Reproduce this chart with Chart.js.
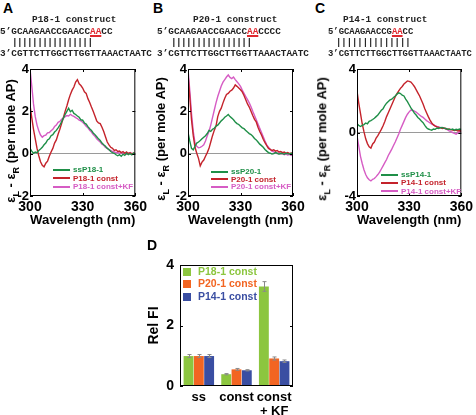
<!DOCTYPE html>
<html>
<head>
<meta charset="utf-8">
<script src="https://cdn.jsdelivr.net/npm/chart.js@4"></script>
<style>
  body { margin: 0; width: 476px; height: 415px; position: relative; background: #fff; overflow: hidden;
         font-family: "Liberation Sans", Arial, sans-serif; }
  canvas { position: absolute; }
  .lbl { position: absolute; font-weight: bold; font-size: 14px; line-height: 14px; color: #000; z-index: 2; }
  .seq { position: absolute; font: bold 9.4px "Liberation Mono", "Courier New", monospace; line-height: 10px;
         white-space: pre; color: #222; z-index: 2; will-change: transform; }
  .seq.narrow { font-size: 8.9px; }
  .bars { letter-spacing: -0.6px; }
  .aa { color: #e0282e; text-decoration: underline; text-decoration-thickness: 1.5px; text-underline-offset: 1px; }
  .ytitle { position: absolute; font-weight: bold; font-size: 13px; white-space: nowrap; color: #000; z-index: 2;
            transform: translate(-50%, -50%) rotate(-90deg); }
  .ytitle sub { font-size: 9px; }
  .leg { position: absolute; font-weight: bold; white-space: nowrap; z-index: 2; line-height: 1; }
  .leg i { display: inline-block; vertical-align: middle; }
</style>
</head>
<body>

<div class="lbl" style="left:3px;top:1px">A</div>
<div class="lbl" style="left:153px;top:1px">B</div>
<div class="lbl" style="left:315px;top:1px">C</div>
<div class="lbl" style="left:147px;top:238px">D</div>

<div class="seq" style="left:32px;top:15px">P18-1 construct</div>
<div class="seq" style="left:0px;top:27px">5’GCAAGAACCGAACC<span class="aa">AA</span>CC</div>
<div class="seq bars" style="left:12px;top:38px">||||||||||||||||</div>
<div class="seq" style="left:0px;top:49px">3’CGTTCTTGGCTTGGTTAAACTAATC</div>

<div class="seq" style="left:193px;top:15px">P20-1 construct</div>
<div class="seq" style="left:157px;top:27px">5’GCAAGAACCGAACC<span class="aa">AA</span>CCCC</div>
<div class="seq bars" style="left:171px;top:38px">||||||||||||||||</div>
<div class="seq" style="left:157px;top:49px">3’CGTTCTTGGCTTGGTTAAACTAATC</div>

<div class="seq" style="left:343px;top:15px">P14-1 construct</div>
<div class="seq narrow" style="left:328px;top:27px">5’GCAAGAACCG<span class="aa">AA</span>CC</div>
<div class="seq narrow" style="left:336px;top:38px">||||||||||||||</div>
<div class="seq narrow" style="left:328px;top:49px">3’CGTTCTTGGCTTGGTTAAACTAATC</div>

<canvas id="cdA" width="150" height="170" style="left:0;top:60px"></canvas>
<canvas id="cdB" width="160" height="170" style="left:150px;top:60px"></canvas>
<canvas id="cdC" width="166" height="170" style="left:310px;top:60px"></canvas>
<canvas id="barD" width="175" height="175" style="left:130px;top:240px"></canvas>

<div class="ytitle" style="left:12px;top:141px">ε<sub>L</sub> - ε<sub>R</sub> (per mole AP)</div>
<div class="ytitle" style="left:162px;top:139px">ε<sub>L</sub> - ε<sub>R</sub> (per mole AP)</div>
<div class="ytitle" style="left:323px;top:139px">ε<sub>L</sub> - ε<sub>R</sub> (per mole AP)</div>

<script>
// wavelength (nm)
const wavelengths = [300,301,302,303,304,305,306,307,308,309,310,311,312,313,314,315,316,317,318,319,
  320,321,322,323,324,325,326,327,328,329,330,331,332,333,334,335,336,337,338,339,
  340,341,342,343,344,345,346,347,348,349,350,351,352,353,354,355,356,357,358,359,360];

// panel A
const ssP18 = [0.25,0.12,0.02,0.08,0.05,0.15,0.22,0.3,0.42,0.5,0.65,0.7,0.85,0.9,1.02,1.1,1.22,1.35,1.5,1.68,
  1.85,2.0,2.15,1.98,2.05,1.9,1.85,1.78,1.72,1.6,1.58,1.45,1.4,1.28,1.18,1.1,0.98,0.9,0.8,0.7,
  0.62,0.5,0.42,0.35,0.25,0.2,0.1,0.05,0.02,-0.05,-0.1,-0.05,-0.12,-0.02,-0.08,0.02,-0.05,0.0,-0.06,0.03,-0.02];
const p18Const = [2.3,1.7,1.15,0.7,0.25,-0.1,-0.38,-0.55,-0.62,-0.45,-0.35,-0.12,0.08,0.25,0.5,0.65,0.92,1.15,1.42,1.7,
  2.0,2.25,2.55,2.8,3.0,3.15,3.38,3.5,3.3,3.22,3.1,2.92,2.85,2.6,2.42,2.2,2.0,1.78,1.55,1.45,
  1.42,1.25,1.05,0.8,0.55,0.42,0.3,0.25,0.15,0.18,0.1,0.12,0.05,0.1,0.02,0.08,0.0,0.05,-0.02,0.03,0.0];
const p18KF = [4.0,3.2,2.35,1.75,1.35,1.08,0.88,0.78,0.85,0.88,0.98,1.0,1.08,1.15,1.28,1.35,1.48,1.52,1.62,1.68,
  1.75,1.8,1.78,1.86,1.8,1.76,1.7,1.66,1.58,1.55,1.48,1.4,1.3,1.22,1.1,1.02,0.9,0.82,0.7,0.62,
  0.55,0.45,0.4,0.3,0.26,0.18,0.15,0.1,0.08,0.05,0.06,0.02,0.04,0.0,0.03,-0.02,0.02,0.0,0.02,-0.02,0.0];

// panel B
const ssP20 = [1.0,0.6,0.25,0.18,0.35,0.5,0.55,0.62,0.7,0.78,0.85,0.95,1.1,1.05,1.15,1.2,1.3,1.35,1.45,1.55,
  1.62,1.72,1.78,1.85,1.75,1.68,1.6,1.5,1.42,1.38,1.3,1.22,1.18,1.1,1.02,0.95,0.9,0.82,0.72,0.65,
  0.55,0.45,0.38,0.3,0.2,0.12,0.05,0.02,-0.02,0.0,0.05,0.02,-0.03,0.02,0.0,-0.03,0.02,0.0,-0.02,0.02,0.0];
const p20Const = [3.8,2.7,1.6,0.85,0.3,0.02,-0.22,-0.58,-0.4,-0.3,-0.12,0.05,0.25,0.55,0.85,1.1,1.3,1.75,2.0,2.15,
  2.4,2.62,2.8,2.85,2.95,3.0,3.1,3.25,3.18,3.1,3.02,2.92,2.75,2.55,2.35,2.2,2.0,1.8,1.62,1.5,
  1.25,1.05,0.88,0.68,0.52,0.38,0.25,0.2,0.15,0.18,0.12,0.15,0.08,0.1,0.05,0.08,0.02,0.05,0.0,0.03,0.0];
const p20KF = [4.0,3.0,1.9,1.05,0.5,0.35,0.28,0.3,0.35,0.42,0.6,0.85,1.05,1.35,1.7,2.05,2.4,2.7,2.95,3.2,
  3.38,3.5,3.62,3.72,3.6,3.55,3.62,3.5,3.4,3.3,3.18,3.0,2.85,2.7,2.55,2.4,2.22,2.0,1.8,1.6,
  1.4,1.2,1.0,0.8,0.6,0.42,0.3,0.2,0.12,0.08,0.05,0.0,0.04,-0.02,0.0,-0.05,-0.02,-0.06,-0.03,-0.08,-0.05];

// panel C
const ssP14 = [0.55,0.45,0.38,0.45,0.5,0.6,0.55,0.7,0.75,0.82,0.9,1.0,1.1,1.25,1.4,1.5,1.7,1.85,1.95,2.05,
  2.1,2.2,2.3,2.42,2.5,2.45,2.35,2.3,2.1,1.95,1.75,1.55,1.4,1.22,1.1,0.95,0.85,0.72,0.62,0.45,
  0.3,0.22,0.18,0.15,0.22,0.2,0.28,0.25,0.3,0.32,0.28,0.25,0.22,0.2,0.18,0.22,0.15,0.2,0.18,0.22,0.2];
const p14Const = [2.6,1.85,1.2,0.55,0.05,-0.4,-0.7,-0.9,-0.98,-0.72,-0.6,-0.35,-0.2,0.0,0.2,0.42,0.7,1.0,1.25,1.5,
  1.75,2.0,2.25,2.45,2.62,2.78,2.9,3.05,3.15,3.25,3.22,3.18,3.05,2.9,2.7,2.5,2.3,2.05,1.8,1.5,
  1.25,1.0,0.78,0.6,0.48,0.4,0.35,0.32,0.3,0.25,0.28,0.25,0.2,0.22,0.18,0.15,0.12,0.15,0.1,0.12,0.08];
const p14KF = [-0.2,-0.85,-1.5,-1.95,-2.35,-2.65,-2.85,-2.98,-3.05,-2.95,-2.9,-2.78,-2.65,-2.5,-2.3,-2.1,-1.9,-1.7,-1.45,-1.25,
  -1.05,-0.82,-0.6,-0.35,-0.1,0.2,0.45,0.7,0.95,1.15,1.3,1.42,1.4,1.35,1.28,1.2,1.1,1.02,0.95,0.85,
  0.75,0.68,0.6,0.52,0.48,0.42,0.38,0.35,0.32,0.3,0.28,0.22,0.18,0.1,0.05,0.0,-0.05,-0.1,-0.02,0.05,0.08];

const namesA = ['ssP18-1', 'P18-1 const', 'P18-1 const+KF'];
const namesB = ['ssP20-1', 'P20-1 const', 'P20-1 const+KF'];
const namesC = ['ssP14-1', 'P14-1 const', 'P14-1 const+KF'];
const lineColors = ['#1f8f48', '#c4232b', '#d65cc4'];

// panel D
const barCategories = ['ss', 'const', ['const', '+ KF']];
const barNames = ['P18-1 const', 'P20-1 const', 'P14-1 const'];
const relP18 = [0.99, 0.39, 3.29];
const relP20 = [0.99, 0.55, 0.91];
const relP14 = [0.99, 0.52, 0.82];
const errP18 = [0.05, 0.02, 0.16];
const errP20 = [0.05, 0.03, 0.05];
const errP14 = [0.05, 0.02, 0.04];
const barColors = ['#8cc63f', '#f26522', '#3a4ea2'];

Chart.defaults.font.family = '"Liberation Sans", Arial, sans-serif';
Chart.defaults.font.weight = 'bold';
Chart.defaults.color = '#000';
Chart.defaults.animation = false;

// box around the plot + small inward ticks
const framePlugin = {
  id: 'frame',
  afterDatasetsDraw(chart, args, opts) {
    const { ctx, chartArea: a, scales } = chart;
    ctx.save();
    ctx.strokeStyle = '#000';
    ctx.lineWidth = 1;
    ctx.strokeRect(a.left + 0.5, a.top + 0.5, a.right - a.left - 1, a.bottom - a.top - 1);
    ctx.beginPath();
    if (opts.xTicks) {
      scales.x.ticks.forEach(t => {
        const px = Math.round(scales.x.getPixelForValue(t.value)) + 0.5;
        ctx.moveTo(px, a.bottom); ctx.lineTo(px, a.bottom - 3);
        ctx.moveTo(px, a.top); ctx.lineTo(px, a.top + 3);
      });
    }
    scales.y.ticks.forEach(t => {
      const py = Math.round(scales.y.getPixelForValue(t.value)) + 0.5;
      ctx.moveTo(a.left, py); ctx.lineTo(a.left + 3, py);
      ctx.moveTo(a.right, py); ctx.lineTo(a.right - 3, py);
    });
    ctx.stroke();
    ctx.restore();
  }
};

const errorBarPlugin = {
  id: 'errorBars',
  afterDatasetsDraw(chart) {
    const { ctx } = chart;
    const y = chart.scales.y;
    ctx.save();
    ctx.strokeStyle = '#8a8a8a';
    ctx.lineWidth = 1;
    chart.data.datasets.forEach((ds, i) => {
      chart.getDatasetMeta(i).data.forEach((bar, j) => {
        const hi = y.getPixelForValue(ds.data[j] + ds.errors[j]);
        const lo = y.getPixelForValue(ds.data[j] - ds.errors[j]);
        const x = Math.round(bar.x) + 0.5;
        ctx.beginPath();
        ctx.moveTo(x, hi); ctx.lineTo(x, lo);
        ctx.moveTo(x - 2, hi); ctx.lineTo(x + 2, hi);
        ctx.moveTo(x - 2, lo); ctx.lineTo(x + 2, lo);
        ctx.stroke();
      });
    });
    ctx.restore();
  }
};

function cdChart(id, series, names, yMin, yMax, yStep, axisW, padRight) {
  return new Chart(document.getElementById(id), {
    type: 'line',
    data: {
      datasets: series.map((vals, i) => ({
        label: names[i],
        data: wavelengths.map((w, k) => ({ x: w, y: vals[k] })),
        borderColor: lineColors[i],
        borderWidth: 1.4,
        pointRadius: 0,
        tension: 0
      }))
    },
    options: {
      responsive: false,
      layout: { padding: { top: 9, right: padRight, left: 0, bottom: 0 } },
      plugins: { legend: { display: false }, tooltip: { enabled: false }, frame: { xTicks: true } },
      scales: {
        x: {
          type: 'linear', min: 300, max: 360,
          ticks: { stepSize: 30, padding: 3, maxRotation: 0, font: { size: 14 } },
          grid: { display: false, drawTicks: false },
          border: { display: false },
          title: { display: true, text: 'Wavelength (nm)', font: { size: 13.5 }, padding: { top: 0, bottom: 2 } },
          afterFit: s => { s.height = 34; }
        },
        y: {
          min: yMin, max: yMax,
          ticks: { stepSize: yStep, padding: 1, font: { size: 13 } },
          grid: { drawTicks: false, color: c => c.tick && c.tick.value === 0 ? '#9a9a9a' : 'rgba(0,0,0,0)' },
          border: { display: false },
          afterFit: s => { s.width = axisW; }
        }
      }
    },
    plugins: [framePlugin]
  });
}

cdChart('cdA', [ssP18, p18Const, p18KF], namesA, -2, 4, 2, 30, 14);
cdChart('cdB', [ssP20, p20Const, p20KF], namesB, -2, 4, 2, 38, 17);
cdChart('cdC', [ssP14, p14Const, p14KF], namesC, -4, 4, 4, 47, 14);

new Chart(document.getElementById('barD'), {
  type: 'bar',
  data: {
    labels: barCategories,
    datasets: [relP18, relP20, relP14].map((vals, i) => ({
      label: barNames[i],
      data: vals,
      errors: [errP18, errP20, errP14][i],
      backgroundColor: barColors[i],
      barPercentage: 0.96,
      categoryPercentage: 0.82
    }))
  },
  options: {
    responsive: false,
    layout: { padding: { top: 25, right: 12, left: 0, bottom: 0 } },
    plugins: { legend: { display: false }, tooltip: { enabled: false }, frame: { xTicks: false } },
    scales: {
      x: {
        ticks: { padding: 4, maxRotation: 0, minRotation: 0, autoSkip: false, font: { size: 13, lineHeight: 1.1 } },
        grid: { display: false, drawTicks: false },
        border: { display: false },
        afterFit: s => { s.height = 29; }
      },
      y: {
        min: 0, max: 4,
        ticks: { stepSize: 2, padding: 6, font: { size: 14 } },
        grid: { display: false, drawTicks: false },
        border: { display: false },
        title: { display: true, text: 'Rel FI', font: { size: 14 }, padding: { top: 16, bottom: 0 } },
        afterFit: s => { s.width = 50; }
      }
    }
  },
  plugins: [errorBarPlugin, framePlugin]
});

// legends inside the plots
function lineLegend(names, left, tops) {
  names.forEach((n, i) => {
    const d = document.createElement('div');
    d.className = 'leg';
    d.style.left = left + 'px';
    d.style.top = (tops[i] - 4) + 'px';
    d.style.fontSize = '8px';
    d.style.color = lineColors[i];
    d.innerHTML = '<i style="width:17px;height:2px;margin-right:3px;background:' + lineColors[i] + '"></i>' + n;
    document.body.appendChild(d);
  });
}
lineLegend(namesA, 53, [170, 178.5, 187]);
lineLegend(namesB, 211, [172, 179.5, 187]);
lineLegend(namesC, 381, [175, 183, 191.5]);

barNames.forEach((n, i) => {
  const d = document.createElement('div');
  d.className = 'leg';
  d.style.left = '183px';
  d.style.top = ([271, 283.5, 296][i] - 5.5) + 'px';
  d.style.fontSize = '10.5px';
  d.style.color = barColors[i];
  d.innerHTML = '<i style="width:8px;height:8px;margin-right:7px;background:' + barColors[i] + '"></i>' + n;
  document.body.appendChild(d);
});
</script>
</body>
</html>
